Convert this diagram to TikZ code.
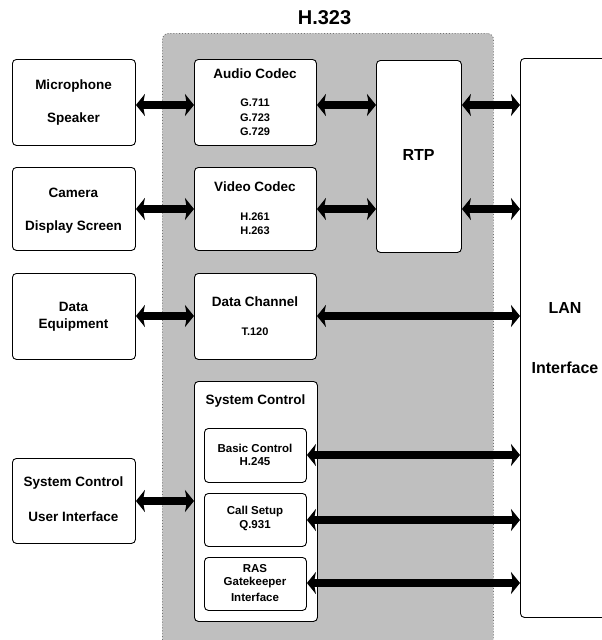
\documentclass[tikz,border=0pt]{standalone}
\usepackage{fontspec}
\setmainfont{Liberation Sans}
\usetikzlibrary{arrows.meta}
\begin{document}
\begin{tikzpicture}[x=1pt,y=-1pt,
 box/.style={draw, line width=0.9pt, rounded corners=4pt, fill=white, inner sep=0pt, anchor=north west},
 grp/.style={draw=black!55, dotted, line width=0.9pt, rounded corners=6pt, fill=black!25, inner sep=0pt, anchor=north west},
 lbl/.style={font=\bfseries\fontsize{13.5}{16}\selectfont, inner sep=0pt},
 sml/.style={font=\bfseries\fontsize{11}{13}\selectfont, inner sep=0pt},
 mid/.style={font=\bfseries\fontsize{11.5}{13}\selectfont, inner sep=0pt},
 big/.style={font=\bfseries\fontsize{16}{19}\selectfont, inner sep=0pt},
 ttl/.style={font=\bfseries\fontsize{20}{24}\selectfont, inner sep=0pt},
 dbl/.style={line width=8pt, {Stealth[length=9pt,width=22pt,inset=2pt]}-{Stealth[length=9pt,width=22pt,inset=2pt]}},
]
\useasboundingbox (0,0) rectangle (602,640);
\begin{scope}
\clip (0,0) rectangle (602,640);
\node[grp, minimum width=331pt, minimum height=625pt] (h323) at (162,33) {};
\node[box, minimum width=110pt, minimum height=559pt] (lan) at (520,58) {};
\end{scope}
\node[ttl] (h323t) at (324.5,18) {H.323};

% left boxes
\node[box, minimum width=123pt, minimum height=86pt] (mic) at (12,59) {};
\node[box, minimum width=123pt, minimum height=83pt] (cam) at (12,167) {};
\node[box, minimum width=123pt, minimum height=86pt] (deq) at (12,273) {};
\node[box, minimum width=123pt, minimum height=85pt] (scui) at (12,458) {};
% inner boxes
\node[box, minimum width=122pt, minimum height=86pt] (audio) at (194,59) {};
\node[box, minimum width=122pt, minimum height=83pt] (video) at (194,167) {};
\node[box, minimum width=122pt, minimum height=86pt] (dch) at (194,273) {};
\node[box, minimum width=123pt, minimum height=240pt] (sysc) at (194,381) {};
\node[box, minimum width=102pt, minimum height=54pt] (basic) at (204,428) {};
\node[box, minimum width=102pt, minimum height=53pt] (call) at (204,493) {};
\node[box, minimum width=102pt, minimum height=53pt] (ras) at (204,557) {};
\node[box, minimum width=85pt, minimum height=192pt] (rtp) at (376,60) {};

% texts
\node[lbl] (t1) at (73.5,86) {Microphone};
\node[lbl] (t2) at (73.5,119) {Speaker};
\node[lbl] (t3) at (73.5,193) {Camera};
\node[lbl] (t4) at (73.5,227) {Display Screen};
\node[lbl] (t5) at (73.5,307) {Data};
\node[lbl] (t6) at (73.5,325) {Equipment};
\node[lbl] (t7) at (73.5,483) {System Control};
\node[lbl] (t8) at (73.5,517) {User Interface};
\node[lbl] (t9) at (255,74) {Audio Codec};
\node[sml] (t10) at (255,103) {G.711};
\node[sml] (t11) at (255,117.5) {G.723};
\node[sml] (t12) at (255,132) {G.729};
\node[lbl] (t13) at (255,187) {Video Codec};
\node[sml] (t14) at (255,217) {H.261};
\node[sml] (t15) at (255,231) {H.263};
\node[lbl] (t16) at (255,302) {Data Channel};
\node[sml] (t17) at (255,332) {T.120};
\node[lbl] (t18) at (255.5,401) {System Control};
\node[mid] (t19) at (255,448) {Basic Control};
\node[mid] (t20) at (255,462) {H.245};
\node[mid] (t21) at (255,512) {Call Setup};
\node[mid] (t22) at (255,526) {Q.931};
\node[mid] (t23) at (255,569) {RAS};
\node[mid] (t24) at (255,583) {Gatekeeper};
\node[mid] (t25) at (255,597) {Interface};
\node[big] (t26) at (418.5,155) {RTP};
\node[big] (t27) at (565,308) {LAN};
\node[big] (t28) at (565,368) {Interface};

% arrow rows
\coordinate (r1) at (0,105);
\coordinate (r2) at (0,209);
\coordinate (r3) at (0,316);
\coordinate (r4) at (0,501);
\coordinate (r5) at (0,455);
\coordinate (r6) at (0,520);
\coordinate (r7) at (0,583);

\draw[dbl] (mic.east |- r1) -- (audio.west |- r1);
\draw[dbl] (audio.east |- r1) -- (rtp.west |- r1);
\draw[dbl] (rtp.east |- r1) -- (lan.west |- r1);
\draw[dbl] (cam.east |- r2) -- (video.west |- r2);
\draw[dbl] (video.east |- r2) -- (rtp.west |- r2);
\draw[dbl] (rtp.east |- r2) -- (lan.west |- r2);
\draw[dbl] (deq.east |- r3) -- (dch.west |- r3);
\draw[dbl] (dch.east |- r3) -- (lan.west |- r3);
\draw[dbl] (scui.east |- r4) -- (sysc.west |- r4);
\draw[dbl] (basic.east |- r5) -- (lan.west |- r5);
\draw[dbl] (call.east |- r6) -- (lan.west |- r6);
\draw[dbl] (ras.east |- r7) -- (lan.west |- r7);
\end{tikzpicture}
\end{document}
